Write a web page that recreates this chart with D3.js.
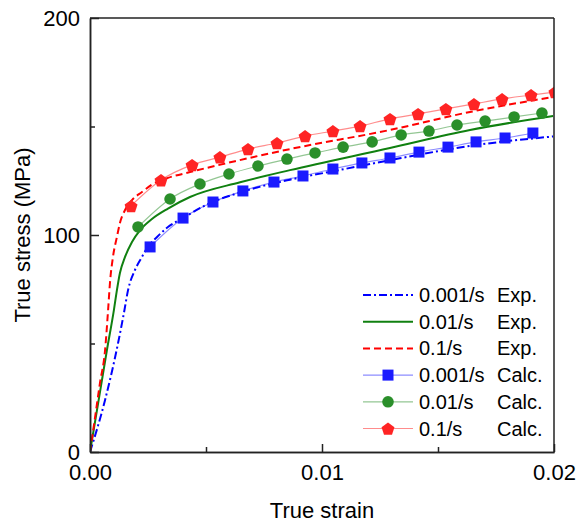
<!DOCTYPE html>
<html>
<head>
<meta charset="utf-8">
<script src="https://cdn.jsdelivr.net/npm/d3@7"></script>
<style>
  body { margin: 0; background: #fff; }
  text { font-family: Arial, "Liberation Sans", sans-serif; fill: #000; }
</style>
</head>
<body>
<div id="chart"></div>
<script>
var width = 579, height = 527;
var margin = {top: 18, right: 25, bottom: 75, left: 90},
    w = width - margin.left - margin.right,
    h = height - margin.top - margin.bottom;

// experimental curves, [strain, stress MPa]
var exp001 = [[0,0],[0.00065,24.0],[0.00121,50.2],[0.00147,64.5],[0.00164,74.6],[0.00194,83.9],
  [0.00224,89.9],[0.00246,94.0],[0.00289,99.1],[0.00336,103.7],[0.00409,108.3],[0.00496,113.6],
  [0.00659,120.0],[0.00862,125.5],[0.01078,130.0],[0.01293,134.5],[0.01668,141.5],[0.01996,145.4]];
var exp01 = [[0,0],[0.00043,27.6],[0.00073,47.0],[0.00103,65.4],[0.00116,74.6],[0.00129,82.5],
  [0.00151,89.9],[0.00181,96.8],[0.00216,102.3],[0.00267,107.4],[0.00336,112.2],[0.00431,117.5],
  [0.00647,124.3],[0.00862,129.9],[0.01293,140.1],[0.01638,148.4],[0.01996,154.8]];
var exp1 = [[0,0],[0.00022,16.1],[0.00043,31.8],[0.00065,47.0],[0.00078,65.4],[0.00086,77.9],
  [0.00099,89.9],[0.00116,99.1],[0.00129,105.5],[0.00151,111.5],[0.00181,116.1],[0.00224,119.8],
  [0.00267,123.2],[0.00336,126.3],[0.00431,129.0],[0.00625,134.0],[0.00862,139.6],[0.01293,148.4],
  [0.01638,156.7],[0.01996,163.6]];

// calculated points
var calc001 = [[0.00259,94.5],[0.00401,107.8],[0.00530,115.2],[0.00659,120.3],[0.00793,124.4],
  [0.00918,127.2],[0.01047,130.4],[0.01172,133.2],[0.01293,135.5],[0.01418,138.2],[0.01543,140.5],
  [0.01664,142.9],[0.01789,144.7],[0.01909,147.0]];
var calc01 = [[0.00207,103.7],[0.00345,116.6],[0.00474,123.5],[0.00599,128.1],[0.00724,131.8],
  [0.00849,135.0],[0.00970,137.8],[0.01091,140.5],[0.01216,142.9],[0.01341,146.1],[0.01461,147.9],
  [0.01582,150.7],[0.01703,152.5],[0.01828,154.4],[0.01948,156.2]];
var calc1 = [[0.00177,113.4],[0.00306,125.3],[0.00440,132.3],[0.00560,135.9],[0.00681,139.6],
  [0.00806,142.4],[0.00927,145.6],[0.01047,147.9],[0.01164,150.2],[0.01293,153.5],[0.01414,155.8],
  [0.01534,158.1],[0.01655,160.4],[0.01776,162.7],[0.01901,164.5],[0.02004,165.9]];

var xTicks = [0, 0.01, 0.02],
    xTickLabels = ["0.00", "0.01", "0.02"],
    xMinor = [0.005, 0.015],
    yTicks = [0, 100, 200],
    yMinor = [50, 150];

var legendLabels = [["0.001/s", "Exp."], ["0.01/s", "Exp."], ["0.1/s", "Exp."],
                    ["0.001/s", "Calc."], ["0.01/s", "Calc."], ["0.1/s", "Calc."]];

var blue = "#0000ff", green = "#108010", red = "#ff0000";

var svg = d3.select("#chart").append("svg")
    .attr("width", width)
    .attr("height", height);

var g = svg.append("g").attr("transform", "translate(" + margin.left + "," + margin.top + ")");

var x = d3.scaleLinear().range([0, w]).domain([0, 0.02]),
    y = d3.scaleLinear().range([h, 0]).domain([0, 200]);

svg.append("defs").append("clipPath").attr("id", "clip")
  .append("rect").attr("width", w).attr("height", h);

var plot = g.append("g").attr("clip-path", "url(#clip)");

var line = d3.line()
    .x(function(d) { return x(d[0]); })
    .y(function(d) { return y(d[1]); })
    .curve(d3.curveMonotoneX);

var expSeries = [
  {data: exp001, color: blue, dash: "8,3,2,3"},
  {data: exp01, color: green, dash: null},
  {data: exp1, color: red, dash: "7,4"}
];
var calcSeries = [
  {data: calc001, color: blue, fill: "#1a1aff", shape: "square"},
  {data: calc01, color: green, fill: "#2a8f2a", shape: "circle"},
  {data: calc1, color: red, fill: "#ff2424", shape: "pentagon"}
];

function marker(sel, shape, fill) {
  if (shape == "square") {
    sel.append("rect").attr("x", -5.5).attr("y", -5.5).attr("width", 11).attr("height", 11)
      .attr("fill", fill);
  } else if (shape == "circle") {
    sel.append("circle").attr("r", 5.8).attr("fill", fill);
  } else {
    var r = 6.8, pts = [];
    for (var k = 0; k < 5; k++) {
      var a = -Math.PI / 2 + k * 2 * Math.PI / 5;
      pts.push([r * Math.cos(a), r * Math.sin(a) + 0.8]);
    }
    sel.append("path").attr("d", "M" + pts.join("L") + "Z").attr("fill", fill);
  }
}

// calc thin lines
calcSeries.forEach(function(s) {
  plot.append("path")
    .attr("d", line(s.data))
    .attr("fill", "none")
    .attr("stroke", s.color)
    .attr("stroke-opacity", 0.45)
    .attr("stroke-width", 1.2);
});

// experimental curves
expSeries.forEach(function(s) {
  plot.append("path")
    .attr("d", line(s.data))
    .attr("fill", "none")
    .attr("stroke", s.color)
    .attr("stroke-width", 2)
    .attr("stroke-dasharray", s.dash);
});

// markers
calcSeries.forEach(function(s) {
  plot.selectAll(null)
    .data(s.data)
    .enter().append("g")
    .attr("transform", function(d) { return "translate(" + x(d[0]) + "," + y(d[1]) + ")"; })
    .each(function() { marker(d3.select(this), s.shape, s.fill); });
});

// axes
function drawAxis() {
  var xAxis = d3.axisBottom(x).tickValues(xTicks).tickSizeInner(-8).tickSizeOuter(0)
        .tickPadding(12).tickFormat(function(d, i) { return xTickLabels[i]; }),
      xAxisMinor = d3.axisBottom(x).tickValues(xMinor).tickSizeInner(-5).tickSizeOuter(0).tickFormat(""),
      yAxis = d3.axisLeft(y).tickValues(yTicks).tickSizeInner(-9).tickSizeOuter(0).tickPadding(10),
      yAxisMinor = d3.axisLeft(y).tickValues(yMinor).tickSizeInner(-5).tickSizeOuter(0).tickFormat("");

  g.append("g").attr("transform", "translate(0," + h + ")").call(xAxis);
  g.append("g").attr("transform", "translate(0," + h + ")").call(xAxisMinor);
  g.append("g").call(yAxis);
  g.append("g").call(yAxisMinor);

  g.selectAll(".tick text").style("font-size", "22px").attr("fill", "#000");
  g.selectAll(".tick line").attr("stroke", "#222").attr("stroke-width", 1.5);
  g.selectAll(".domain").attr("stroke", "#222").attr("stroke-width", 1.5);

  // frame
  g.append("line").attr("x1", 0).attr("x2", w).attr("y1", 0).attr("y2", 0)
    .attr("stroke", "#222").attr("stroke-width", 1.5);
  g.append("line").attr("x1", w).attr("x2", w).attr("y1", 0).attr("y2", h)
    .attr("stroke", "#222").attr("stroke-width", 1.5);

  svg.append("text")
    .attr("x", margin.left + w / 2).attr("y", 518)
    .attr("text-anchor", "middle").style("font-size", "22px")
    .text("True strain");
  svg.append("text")
    .attr("transform", "translate(30," + (margin.top + h / 2) + ") rotate(-90)")
    .attr("text-anchor", "middle").style("font-size", "22px")
    .text("True stress (MPa)");
}
drawAxis();

// legend
var legendItems = expSeries.concat(calcSeries);
var lg = svg.append("g").attr("transform", "translate(363,295)");
legendItems.forEach(function(s, i) {
  var row = lg.append("g").attr("transform", "translate(0," + (i * 26.7) + ")");
  if (i < 3) {
    row.append("line").attr("x1", 0).attr("x2", 50)
      .attr("stroke", s.color).attr("stroke-width", 2).attr("stroke-dasharray", s.dash);
  } else {
    row.append("line").attr("x1", 0).attr("x2", 50)
      .attr("stroke", s.color).attr("stroke-opacity", 0.45).attr("stroke-width", 1.2);
    var m = row.append("g").attr("transform", "translate(25,0)");
    marker(m, s.shape, s.fill);
  }
  row.append("text").attr("x", 56).attr("y", 7).style("font-size", "20px").text(legendLabels[i][0]);
  row.append("text").attr("x", 134).attr("y", 7).style("font-size", "20px").text(legendLabels[i][1]);
});
</script>
</body>
</html>
